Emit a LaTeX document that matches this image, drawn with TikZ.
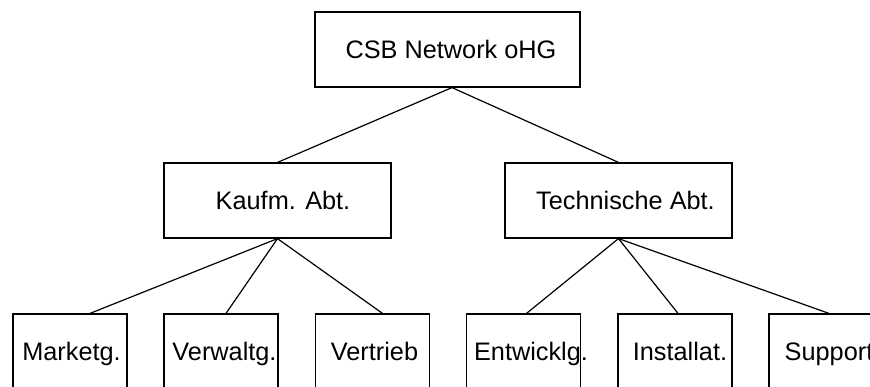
\documentclass[tikz,border=0pt]{standalone}
\usepackage{fontspec}
\setmainfont{Liberation Sans}
\usepackage{tikz}
\usetikzlibrary{positioning,calc}

% text pushed right by half of the first argument
\newcommand{\boxlbl}[2][8]{\makebox[0pt]{\hspace*{#1pt}#2}}

\begin{document}
\begin{tikzpicture}[x=1pt,y=-1pt,line width=1.2pt,
  org/.style={draw,rectangle,inner sep=0pt,minimum height=75pt,text height=18.5pt,text depth=0pt,font=\fontsize{25.3}{30}\selectfont},
  head/.style={org,minimum width=265pt},
  dep/.style={org,minimum width=227pt},
  unit/.style={org,minimum width=114pt}]

\clip (0,0) rectangle (870,386);

  \node[head] (csb) at (447.5,49.5) {\boxlbl[7]{CSB Network oHG}};

  \node[dep] (kfm) at (277.5,200.5) {\boxlbl[11]{Kaufm. Abt.}};
  \node[dep] (tec) at (618.5,200.5) {\boxlbl[14]{Technische Abt.}};

  \node[unit] (mkt) at (70,351.5) {\boxlbl[3]{Marketg.}};
  \node[unit] (vwl) at (221,351.5) {\boxlbl[7]{Verwaltg.}};
  \node[unit] (vtr) at (372.5,351.5) {\boxlbl[4]{Vertrieb}};
  \node[unit] (ent) at (523.5,351.5) {\boxlbl[15]{Entwicklg.}};
  \node[unit] (ins) at (675,351.5) {\boxlbl[10]{Installat.}};
  \node[unit] (sup) at (826,351.5) {\boxlbl[6]{Support}};

  \draw ([xshift=4.5pt]csb.south) -- (kfm.north);
  \draw ([xshift=4.5pt]csb.south) -- (tec.north);
  \draw (kfm.south) -- ([xshift=20pt]mkt.north);
  \draw (kfm.south) -- ([xshift=5pt]vwl.north);
  \draw (kfm.south) -- ([xshift=10pt]vtr.north);
  \draw (tec.south) -- ([xshift=3pt]ent.north);
  \draw (tec.south) -- ([xshift=3pt]ins.north);
  \draw (tec.south) -- ([xshift=3pt]sup.north);
\end{tikzpicture}
\end{document}
